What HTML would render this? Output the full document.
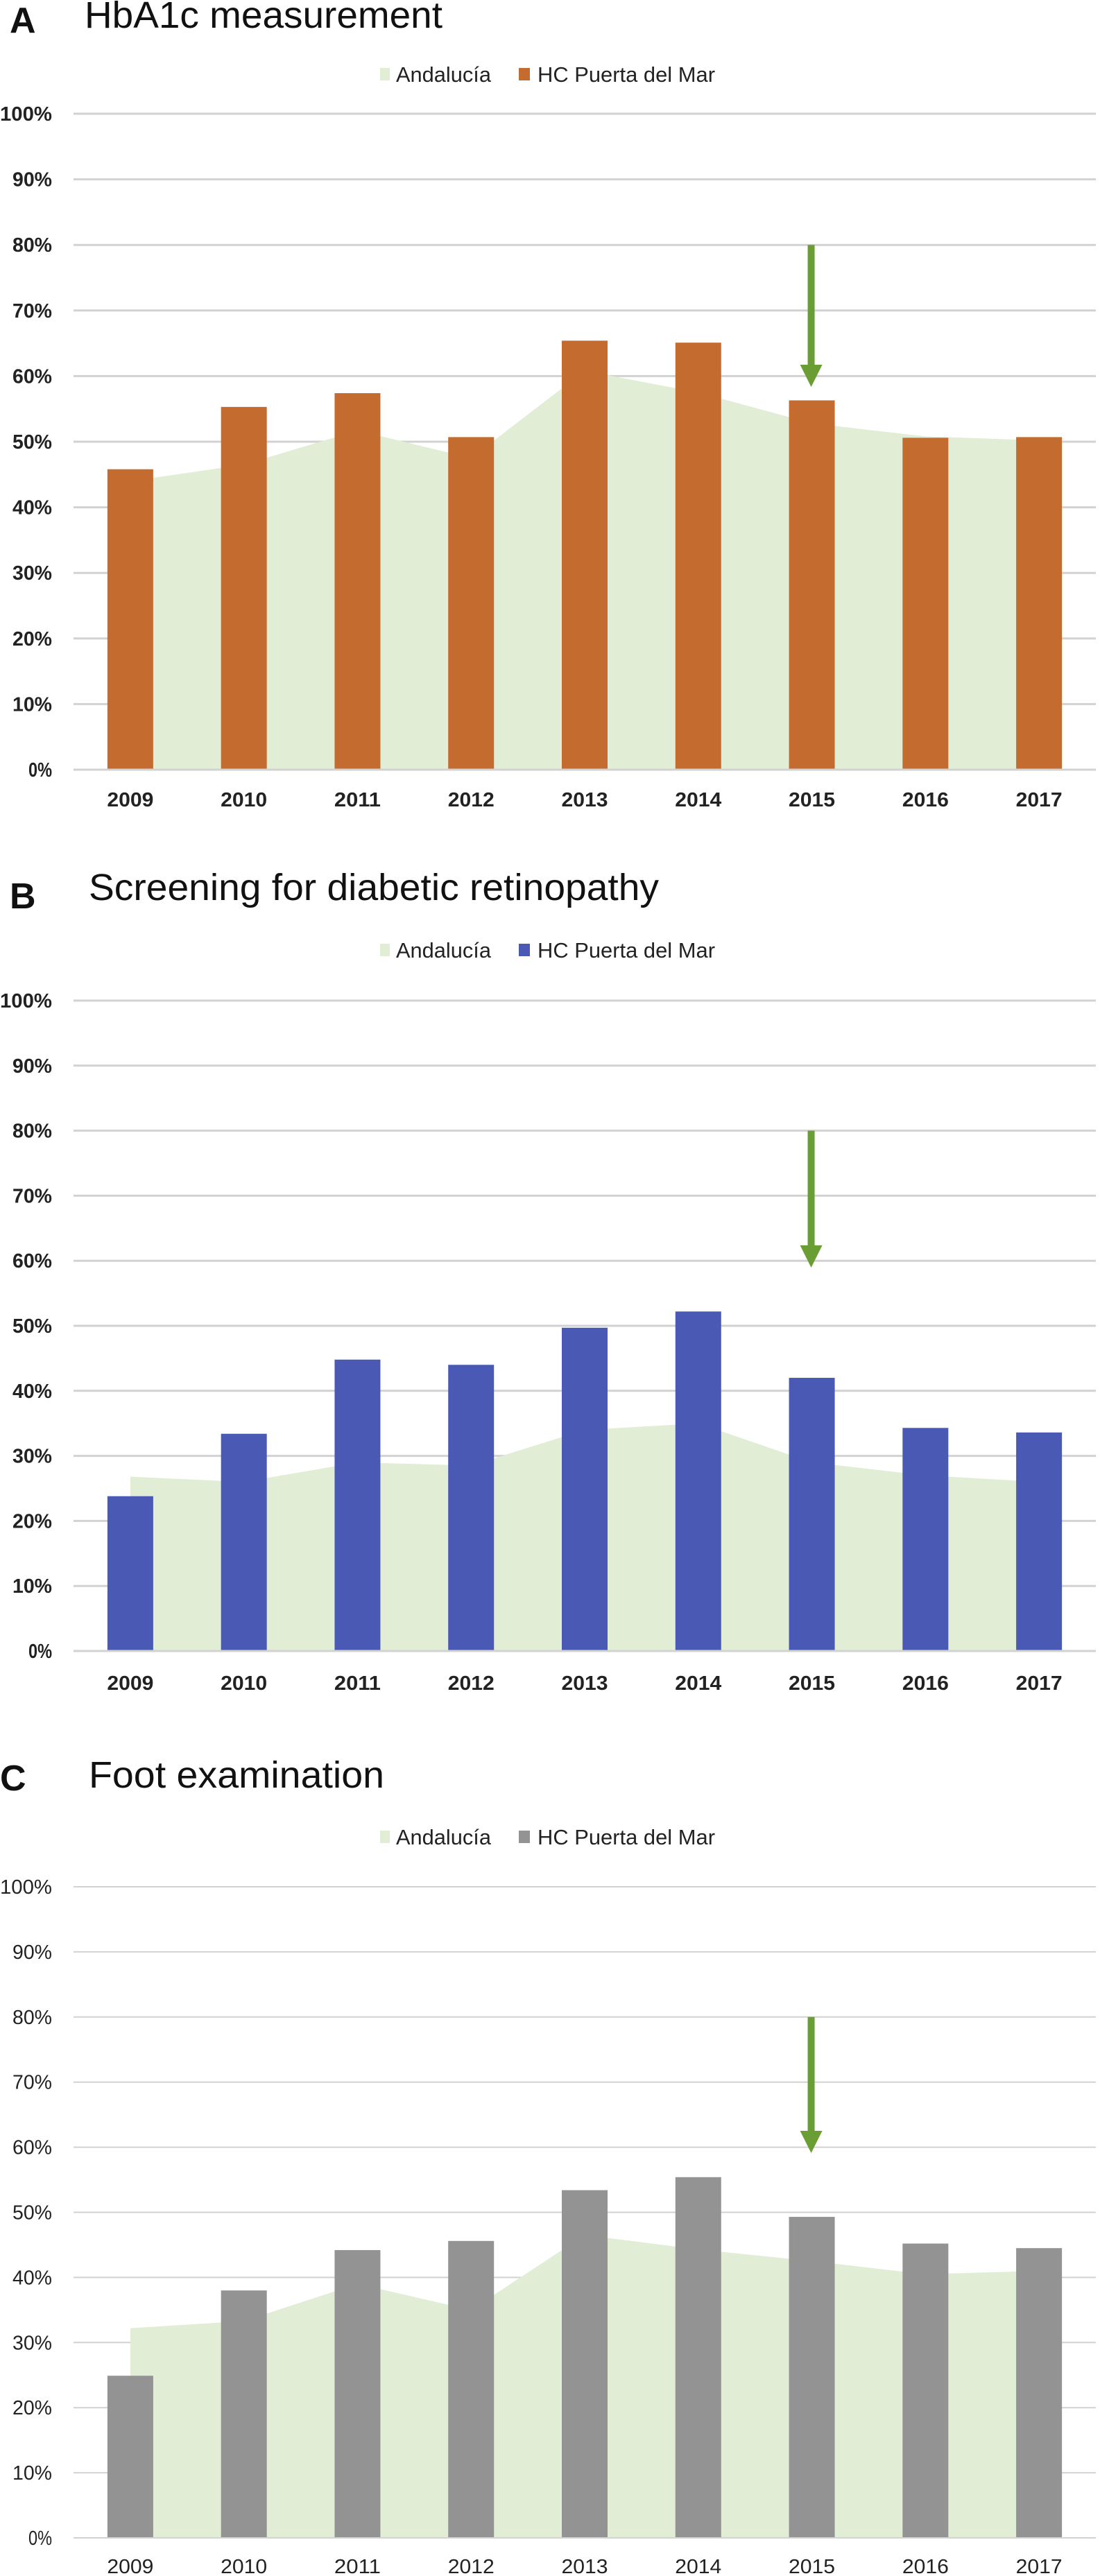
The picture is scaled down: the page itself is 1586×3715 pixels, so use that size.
<!DOCTYPE html>
<html><head><meta charset="utf-8"><title>Diabetes care indicators</title>
<style>
html,body{margin:0;padding:0;background:#fff;}
svg{display:block;}
text{font-family:"Liberation Sans Narrow","Liberation Sans",sans-serif;}
</style></head>
<body>
<svg id="fig" width="1586" height="3715" viewBox="0 0 1586 3715" xmlns="http://www.w3.org/2000/svg"></svg>
<script>
const years = ['2009','2010','2011','2012','2013','2014','2015','2016','2017'];
const yTicks = [0,10,20,30,40,50,60,70,80,90,100];
const andaluciaA = [44, 46.5, 51.7, 47.5, 60.8, 57.5, 52.8, 50.8, 50.2];
const hospitalA = [45.8, 55.3, 57.4, 50.7, 65.4, 65.1, 56.3, 50.6, 50.7];
const andaluciaB = [26.8, 26.0, 29.0, 28.5, 34.0, 35.0, 29.0, 27.0, 26.0];
const hospitalB = [23.8, 33.4, 44.8, 44.0, 49.7, 52.2, 42.0, 34.3, 33.6];
const andaluciaC = [32.2, 33.3, 39.0, 35.0, 46.5, 44.3, 42.5, 40.5, 41.0];
const hospitalC = [24.9, 38.0, 44.2, 45.6, 53.4, 55.4, 49.3, 45.2, 44.5];
const arrowYear = '2015';
const arrowTop = 80;

const NS = 'http://www.w3.org/2000/svg';
const svg = document.getElementById('fig');
function mk(tag, attrs, parent){
  const e = document.createElementNS(NS, tag);
  for (const k in attrs) e.setAttribute(k, attrs[k]);
  (parent||svg).appendChild(e);
  return e;
}

const panels = [
  {key:'a', letter:'A', title:'HbA1c measurement', color:'#C46C30', and:andaluciaA, hc:hospitalA,
   y100:164, y0:1110, yearY:1163, letterY:47, titleY:40, titleX:122, titleW:516, legY:107, bold:true, grid:3, arrowTipY:558},
  {key:'b', letter:'B', title:'Screening for diabetic retinopathy', color:'#4A5AB4', and:andaluciaB, hc:hospitalB,
   y100:1443, y0:2381, yearY:2437, letterY:1310, titleY:1298, titleX:128, titleW:822, legY:1370, bold:true, grid:3, arrowTipY:1828},
  {key:'c', letter:'C', title:'Foot examination', color:'#939393', and:andaluciaC, hc:hospitalC,
   y100:2721, y0:3660, yearY:3711, letterY:2582, titleY:2578, titleX:128, titleW:426, legY:2649, bold:false, grid:2, arrowTipY:3105}
];

const plotL = 106, plotR = 1580;
const band = (plotR - plotL) / years.length;
function xCenter(i){ return plotL + band*(i+0.5); }
const barW = 66;

panels.forEach(p => {
  const g = mk('g', {});
  
  
  const yS = v => p.y0 - (p.y0 - p.y100) * v / 100;

  const L = mk('text', {x: p.key==='c'?0:14, y:p.letterY, 'font-size':52, 'font-weight':'bold', fill:'#111', 'font-family':'Liberation Sans, sans-serif'}, g);
  L.textContent = p.letter;
  
  
  const T = mk('text', {x:p.titleX, y:p.titleY, 'font-size':54, fill:'#111', textLength:p.titleW, lengthAdjust:'spacingAndGlyphs', 'font-family':'Liberation Sans, sans-serif'}, g);
  T.textContent = p.title;
  
  

  // legend
  const lg = mk('g', {}, g);
  
  
  const s1 = mk('rect', {x:548, y:p.legY-9, width:14, height:18, fill:'#E1EDD5'}, lg);
  
  
  const t1 = mk('text', {x:571, y:p.legY+11, 'font-size':31, fill:'#222', textLength:137, lengthAdjust:'spacingAndGlyphs'}, lg);
  t1.textContent = 'Andalucía';
  
  
  const s2 = mk('rect', {x:748, y:p.legY-9, width:16, height:18, fill:p.color}, lg);
  
  
  const t2 = mk('text', {x:775, y:p.legY+11, 'font-size':31, fill:'#222', textLength:256, lengthAdjust:'spacingAndGlyphs'}, lg);
  t2.textContent = 'HC Puerta del Mar';
  
  

  // gridlines + y labels
  yTicks.forEach(v => {
    const y = yS(v);
    const gl = mk('line', {x1:plotL, x2:plotR, y1:y, y2:y, stroke:'#d2d2d2', 'stroke-width':p.grid}, g);
    
    
    const lbl = mk('text', {x:75, y:y+10, 'font-size':29, 'font-weight':p.bold?'bold':'normal', fill:'#222', 'text-anchor':'end', textLength: v===100?75:(v===0?34:57), lengthAdjust:'spacingAndGlyphs'}, g);
    lbl.textContent = v + '%';
    
    
  });

  // area
  let d = 'M' + xCenter(0) + ',' + yS(0);
  p.and.forEach((v,i) => { d += ' L' + xCenter(i) + ',' + yS(v); });
  d += ' L' + xCenter(years.length-1) + ',' + yS(0) + ' Z';
  const area = mk('path', {d:d, fill:'#E1EDD5'}, g);
  
  

  // bars
  p.hc.forEach((v,i) => {
    const b = mk('rect', {x:xCenter(i)-barW/2, y:yS(v), width:barW, height:yS(0)-yS(v), fill:p.color}, g);
    
    
  });
  const base = mk('line', {x1:plotL, x2:plotR, y1:yS(0), y2:yS(0), stroke:'#d2d2d2', 'stroke-width':p.grid}, g);
  
  

  // year labels
  years.forEach((yr,i) => {
    const t = mk('text', {x:xCenter(i), y:p.yearY, 'font-size':29, 'font-weight':p.bold?'bold':'normal', fill:'#222', 'text-anchor':'middle', textLength:67, lengthAdjust:'spacingAndGlyphs'}, g);
    t.textContent = yr;
    
    
  });

  // arrow
  const ai = years.indexOf(arrowYear);
  const ax = xCenter(ai) - 1;
  const ag = mk('g', {}, g);
  
  
  mk('rect', {x:ax-5, y:yS(arrowTop), width:10, height:p.arrowTipY-30-yS(arrowTop), fill:'#6A9E35'}, ag);
  mk('polygon', {points:(ax-16)+','+(p.arrowTipY-32)+' '+(ax+16)+','+(p.arrowTipY-32)+' '+ax+','+p.arrowTipY, fill:'#6A9E35'}, ag);
});
</script>
</body></html>
